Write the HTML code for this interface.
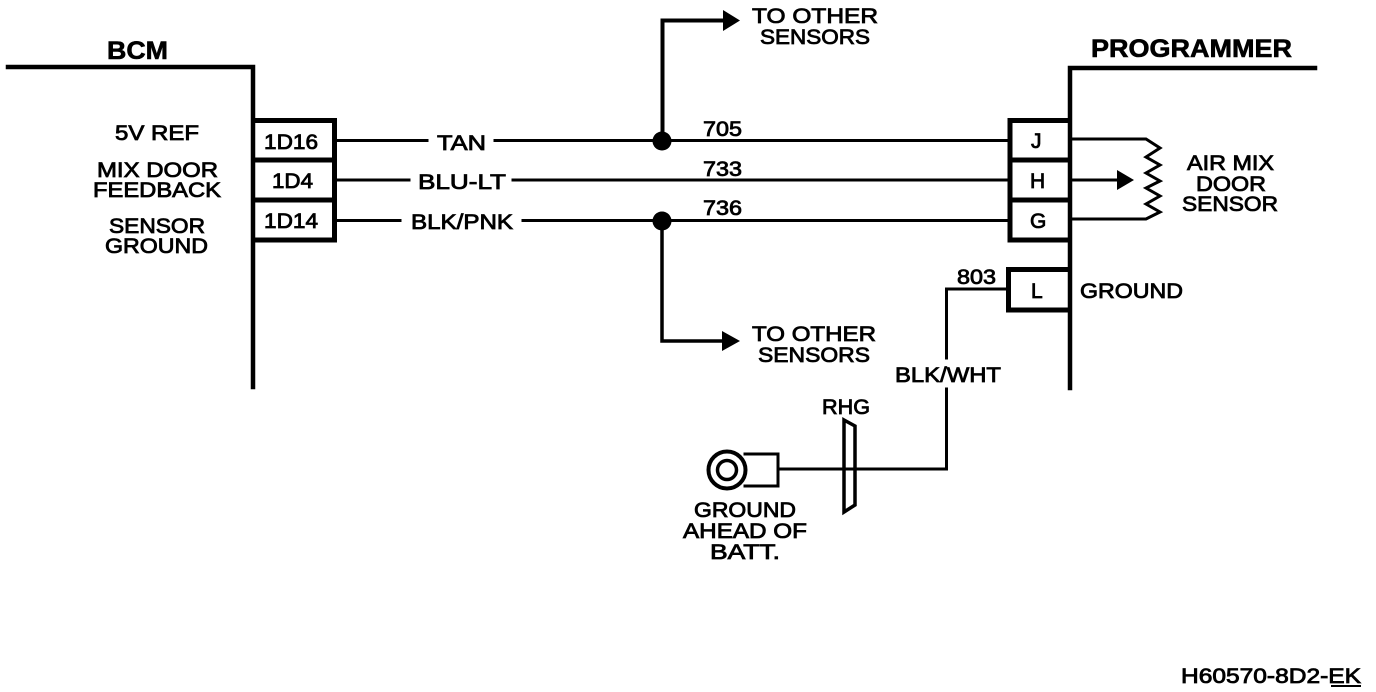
<!DOCTYPE html>
<html><head><meta charset="utf-8"><style>
html,body{margin:0;padding:0;background:#fff;width:1376px;height:692px;overflow:hidden}
svg{display:block}
text{font-family:"Liberation Sans",sans-serif;font-size:21px;fill:#000;stroke:#000;stroke-width:.8px}
.b{font-weight:bold;font-size:25px;stroke-width:.6px}
.l{fill:none;stroke:#000;stroke-linecap:square}
</style></head><body>
<svg width="1376" height="692" viewBox="0 0 1376 692" xmlns="http://www.w3.org/2000/svg">
<!-- BCM -->
<path class="l" stroke-width="4.500" d="M8 67H253V387"/>
<path class="l" stroke-width="5" d="M254 120.500H334.500V240H254M254 160H334M254 200H334"/>
<!-- Programmer -->
<path class="l" stroke-width="4.500" d="M1315 68H1070V388"/>
<path class="l" stroke-width="5" d="M1068 120.500H1010V240H1068M1010 160H1068M1010 200H1068"/>
<path class="l" stroke-width="5" d="M1068 269.500H1008.500V310H1068"/>
<!-- wires -->
<g class="l" stroke-width="3">
<path d="M338 140.500H427M495 140.500H1007"/>
<path d="M338 180H409M513 180H1007"/>
<path d="M338 220.500H400M523 220.500H1007"/>
<path d="M1072 139H1146L1160 148L1146 157L1160 165L1146 173L1160 181L1146 188L1160 196L1146 204L1160 212L1146 219H1072" stroke-linejoin="miter"/>
<path d="M1072 180H1118"/>
<path d="M1006 289H946.500V358"/>
<path d="M946.500 389V469H781"/>
</g>
<path class="l" stroke-width="4" d="M662.500 140V20.500H725"/>
<path class="l" stroke-width="3.500" d="M662 221V341H725"/>
<circle cx="662" cy="141" r="9.500"/>
<circle cx="662" cy="221" r="9.500"/>
<polygon points="723,10 740,20.500 723,31"/>
<polygon points="722,331 740,341 722,351"/>
<polygon points="1117,170 1134,180 1117,190"/>
<!-- ground terminal -->
<path class="l" stroke-width="3" d="M745 454H778V486H745"/>
<circle cx="727" cy="470" r="18.500" fill="#fff" stroke="#000" stroke-width="4"/>
<circle cx="727" cy="470" r="9.500" fill="#fff" stroke="#000" stroke-width="3.500"/>
<path d="M844 420L855 426V505L844 512Z" fill="#fff" stroke="#000" stroke-width="3.500"/>
<path class="l" stroke-width="3" d="M844 469H869"/>
<!-- labels -->
<g>
<text class="b" x="107" y="59" textLength="61" lengthAdjust="spacingAndGlyphs">BCM</text>
<text class="b" x="1091" y="57" textLength="201" lengthAdjust="spacingAndGlyphs">PROGRAMMER</text>
<text x="115" y="140" textLength="84" lengthAdjust="spacingAndGlyphs">5V REF</text>
<text x="97" y="177" textLength="121" lengthAdjust="spacingAndGlyphs">MIX DOOR</text>
<text x="93" y="197" textLength="128" lengthAdjust="spacingAndGlyphs">FEEDBACK</text>
<text x="109" y="233" textLength="96" lengthAdjust="spacingAndGlyphs">SENSOR</text>
<text x="105" y="253" textLength="103" lengthAdjust="spacingAndGlyphs">GROUND</text>
<text x="264" y="149" textLength="54" lengthAdjust="spacingAndGlyphs">1D16</text>
<text x="272" y="188" textLength="41" lengthAdjust="spacingAndGlyphs">1D4</text>
<text x="264" y="228" textLength="54" lengthAdjust="spacingAndGlyphs">1D14</text>
<text x="437" y="150" textLength="49" lengthAdjust="spacingAndGlyphs">TAN</text>
<text x="418" y="189" textLength="88" lengthAdjust="spacingAndGlyphs">BLU-LT</text>
<text x="411" y="229" textLength="102" lengthAdjust="spacingAndGlyphs">BLK/PNK</text>
<text x="703" y="136" textLength="39" lengthAdjust="spacingAndGlyphs">705</text>
<text x="703" y="176" textLength="39" lengthAdjust="spacingAndGlyphs">733</text>
<text x="703" y="215" textLength="39" lengthAdjust="spacingAndGlyphs">736</text>
<text x="752" y="23" textLength="126" lengthAdjust="spacingAndGlyphs">TO OTHER</text>
<text x="760" y="44" textLength="110" lengthAdjust="spacingAndGlyphs">SENSORS</text>
<text x="752" y="341" textLength="124" lengthAdjust="spacingAndGlyphs">TO OTHER</text>
<text x="758" y="362" textLength="112" lengthAdjust="spacingAndGlyphs">SENSORS</text>
<text x="1031" y="148">J</text>
<text x="1030" y="188">H</text>
<text x="1030" y="228">G</text>
<text x="1031" y="298">L</text>
<text x="1080" y="298" textLength="103" lengthAdjust="spacingAndGlyphs">GROUND</text>
<text x="1187" y="170" textLength="87" lengthAdjust="spacingAndGlyphs">AIR MIX</text>
<text x="1196" y="191" textLength="70" lengthAdjust="spacingAndGlyphs">DOOR</text>
<text x="1182" y="211" textLength="96" lengthAdjust="spacingAndGlyphs">SENSOR</text>
<text x="957" y="284" textLength="39" lengthAdjust="spacingAndGlyphs">803</text>
<text x="895" y="382" textLength="106" lengthAdjust="spacingAndGlyphs">BLK/WHT</text>
<text x="822" y="414" textLength="48" lengthAdjust="spacingAndGlyphs">RHG</text>
<text x="694" y="517" textLength="102" lengthAdjust="spacingAndGlyphs">GROUND</text>
<text x="683" y="538" textLength="124" lengthAdjust="spacingAndGlyphs">AHEAD OF</text>
<text x="710" y="559" textLength="70" lengthAdjust="spacingAndGlyphs">BATT.</text>
<text x="1181" y="683" textLength="180" lengthAdjust="spacingAndGlyphs">H60570-8D2-EK</text>
</g>
<path class="l" stroke-width="2" d="M1332 686H1360"/>
</svg>
</body></html>
